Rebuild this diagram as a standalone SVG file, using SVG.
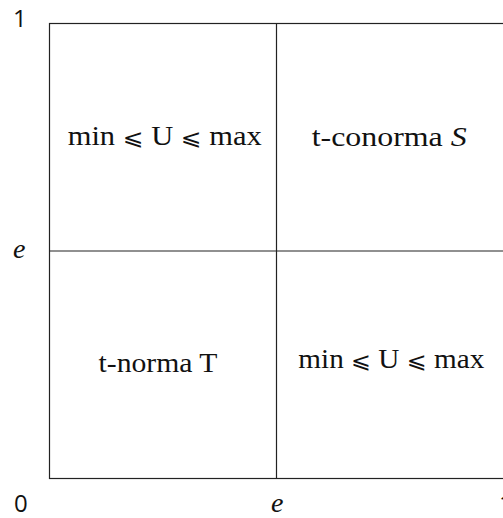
<svg xmlns="http://www.w3.org/2000/svg" width="503" height="518" viewBox="0 0 503 518">
<style>
.ln{stroke:#222;stroke-width:1.2;fill:none}
.lbl{font-family:"Liberation Serif","DejaVu Serif",serif;font-size:27px;fill:#111}
.rel{font-family:"DejaVu Sans",sans-serif;font-weight:normal;font-size:22px}
.num{font-family:"Open Sans","Liberation Sans",sans-serif;font-size:24px;fill:#111}
.it{font-family:"Liberation Serif","DejaVu Serif",serif;font-size:28px;font-style:italic;fill:#111}
</style>
<rect width="503" height="518" fill="#fff"/>
<g id="connectors">
<rect class="ln" x="49.5" y="23.5" width="455" height="455"/>
<line class="ln" x1="276.5" y1="23.5" x2="276.5" y2="478.5"/>
<line class="ln" x1="49.5" y1="251" x2="504.5" y2="251"/>
</g>
<g id="q-top-left"><text class="lbl" x="67.7" y="145" textLength="194" lengthAdjust="spacingAndGlyphs">min <tspan class="rel">⩽</tspan> U <tspan class="rel">⩽</tspan> max</text></g>
<g id="q-top-right"><text class="lbl" x="311.7" y="145.5" textLength="155" lengthAdjust="spacingAndGlyphs">t-conorma <tspan font-style="italic">S</tspan></text></g>
<g id="q-bottom-left"><text class="lbl" x="98.5" y="372" textLength="119" lengthAdjust="spacingAndGlyphs">t-norma T</text></g>
<g id="q-bottom-right"><text class="lbl" x="298.3" y="368" textLength="186" lengthAdjust="spacingAndGlyphs">min <tspan class="rel">⩽</tspan> U <tspan class="rel">⩽</tspan> max</text></g>
<g id="axis-labels">
<text class="num" x="13" y="27">1</text>
<text class="it" x="13" y="258">e</text>
<text class="num" x="14" y="512">0</text>
<text class="it" x="271" y="512">e</text>
<text class="num" x="499" y="512">1</text>
</g>
</svg>
